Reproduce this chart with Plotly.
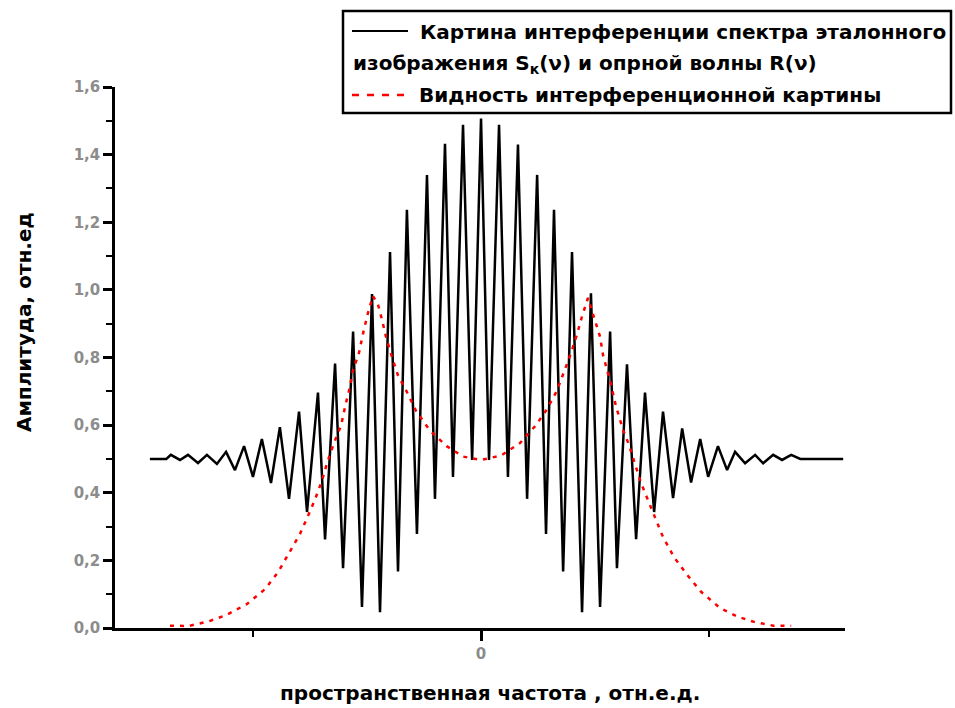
import plotly.graph_objects as go

# ---- data (x in rel. units of spatial frequency, y amplitude) ----
sig_x = [-1.452, -1.380, -1.360, -1.320, -1.285, -1.241, -1.202, -1.158, -1.118, -1.079,
         -1.039, -1.000, -0.961, -0.921, -0.882, -0.842, -0.798, -0.763, -0.715, -0.684,
         -0.640, -0.605, -0.561, -0.522, -0.478, -0.443, -0.399, -0.364, -0.325, -0.281,
         -0.237, -0.202, -0.158, -0.123, -0.079, -0.039, 0.000, 0.035, 0.079, 0.118,
         0.162, 0.202, 0.246, 0.285, 0.320, 0.360, 0.399, 0.443, 0.482, 0.522,
         0.566, 0.596, 0.640, 0.680, 0.719, 0.759, 0.798, 0.842, 0.882, 0.921,
         0.961, 0.996, 1.039, 1.079, 1.114, 1.158, 1.202, 1.237, 1.281, 1.320,
         1.360, 1.400, 1.588]
sig_y = [0.500, 0.500, 0.512, 0.497, 0.512, 0.488, 0.512, 0.485, 0.521, 0.467,
         0.538, 0.447, 0.559, 0.429, 0.594, 0.382, 0.640, 0.343, 0.696, 0.262,
         0.782, 0.177, 0.877, 0.062, 0.988, 0.047, 1.112, 0.167, 1.237, 0.278,
         1.340, 0.382, 1.432, 0.447, 1.488, 0.497, 1.507, 0.497, 1.488, 0.447,
         1.430, 0.382, 1.340, 0.278, 1.237, 0.167, 1.112, 0.047, 0.990, 0.062,
         0.877, 0.177, 0.780, 0.263, 0.696, 0.343, 0.640, 0.384, 0.590, 0.430,
         0.559, 0.447, 0.538, 0.467, 0.521, 0.487, 0.512, 0.487, 0.512, 0.497,
         0.512, 0.500, 0.500]

vis_x = [-1.364, -1.281, -1.193, -1.118, -1.026, -0.947, -0.890, -0.842, -0.794, -0.763,
         -0.728, -0.697, -0.675, -0.645, -0.614, -0.596, -0.575, -0.561, -0.535, -0.518,
         -0.496, -0.474, -0.452, -0.434, -0.417, -0.390, -0.364, -0.325, -0.285, -0.224,
         -0.149, -0.079, 0.000, 0.088, 0.171, 0.241, 0.289, 0.333, 0.364, 0.395,
         0.421, 0.443, 0.469, 0.496, 0.522, 0.535, 0.553, 0.570, 0.592, 0.623,
         0.649, 0.675, 0.702, 0.737, 0.768, 0.798, 0.846, 0.904, 0.965, 1.048,
         1.127, 1.197, 1.281, 1.360]
vis_y = [0.007, 0.006, 0.020, 0.038, 0.071, 0.115, 0.165, 0.220, 0.278, 0.325,
         0.380, 0.437, 0.488, 0.547, 0.598, 0.655, 0.713, 0.763, 0.814, 0.869,
         0.931, 0.982, 0.957, 0.911, 0.862, 0.800, 0.747, 0.698, 0.642, 0.584,
         0.537, 0.507, 0.497, 0.510, 0.547, 0.600, 0.647, 0.702, 0.757, 0.814,
         0.869, 0.922, 0.976, 0.917, 0.861, 0.807, 0.764, 0.720, 0.655, 0.586,
         0.541, 0.482, 0.428, 0.370, 0.319, 0.269, 0.210, 0.157, 0.107, 0.059,
         0.033, 0.018, 0.007, 0.007]

name_sig_1 = "Картина интерференции спектра эталонного"
name_sig_2 = "изображения S<sub>к</sub>(ν) и опрной волны R(ν)"
name_vis = "Видность интерференционной картины"
x_title = "пространственная частота , отн.е.д."
y_title = "Амплитуда, отн.ед"

# ---- figure ----
fig = go.Figure()
fig.add_trace(go.Scatter(x=sig_x, y=sig_y, mode="lines",
                         line=dict(color="black", width=2.5), showlegend=False))
fig.add_trace(go.Scatter(x=vis_x, y=vis_y, mode="lines",
                         line=dict(color="#ff0000", width=2.5, dash="4px,6px"),
                         showlegend=False))

W, H = 955, 708
L, R, T, B = 115, 110, 87, 80
pw, ph = W - L - R, H - T - B


def px(xp):
    return (xp - L) / pw


def py(yp):
    return (H - B - yp) / ph


# legend drawn by hand
fig.add_shape(type="rect", xref="paper", yref="paper",
              x0=px(343), x1=px(951), y0=py(113), y1=py(11),
              line=dict(color="black", width=2.5), fillcolor="white", layer="above")
fig.add_shape(type="line", xref="paper", yref="paper",
              x0=px(352), x1=px(408), y0=py(31), y1=py(31),
              line=dict(color="black", width=2))
fig.add_shape(type="line", xref="paper", yref="paper",
              x0=px(352), x1=px(410), y0=py(95), y1=py(95),
              line=dict(color="#ff0000", width=2.5, dash="7px,8px"))

lfont = dict(family="DejaVu Sans", size=20, color="black", weight="bold")
for txt, xl, yl in [(name_sig_1, 418, 32), (name_sig_2, 351, 64), (name_vis, 417, 95)]:
    fig.add_annotation(text=txt, xref="paper", yref="paper", x=px(xl), y=py(yl),
                       xanchor="left", yanchor="middle", showarrow=False, font=lfont)

fig.add_annotation(text=x_title, xref="paper", yref="paper", x=px(490), y=py(693),
                   xanchor="center", yanchor="middle", showarrow=False,
                   font=dict(family="DejaVu Sans", size=20, color="black", weight="bold"))
fig.add_annotation(text=y_title, xref="paper", yref="paper", x=px(24), y=py(322),
                   xanchor="center", yanchor="middle", showarrow=False,
                   font=dict(family="DejaVu Sans", size=20, color="black", weight="bold"),
                   textangle=-90)

fig.update_layout(
    width=W, height=H,
    margin=dict(l=L, r=R, t=T, b=B, pad=0),
    paper_bgcolor="white", plot_bgcolor="white",
    separators=", ",
    showlegend=False,
)
fig.update_xaxes(range=[-1.605, 1.596], showgrid=False, zeroline=False,
                 showline=True, linecolor="black", linewidth=2.5,
                 ticks="outside", ticklen=10, tickwidth=2.5, tickcolor="black",
                 tick0=0, dtick=2,
                 tickfont=dict(family="DejaVu Sans", size=15, color="#8c8c8c", weight="bold"),
                 minor=dict(dtick=1, ticks="outside", ticklen=6, tickwidth=2, tickcolor="black"))
fig.update_yaxes(range=[0, 1.6], showgrid=False, zeroline=False,
                 showline=True, linecolor="black", linewidth=2.5,
                 ticks="outside", ticklen=9, tickwidth=2.5, tickcolor="black",
                 tick0=0, dtick=0.2, tickformat=".1f",
                 tickfont=dict(family="DejaVu Sans", size=15, color="#8c8c8c", weight="bold"),
                 minor=dict(dtick=0.1, ticks="outside", ticklen=6, tickwidth=2, tickcolor="black"))

fig.write_html("out.html")
